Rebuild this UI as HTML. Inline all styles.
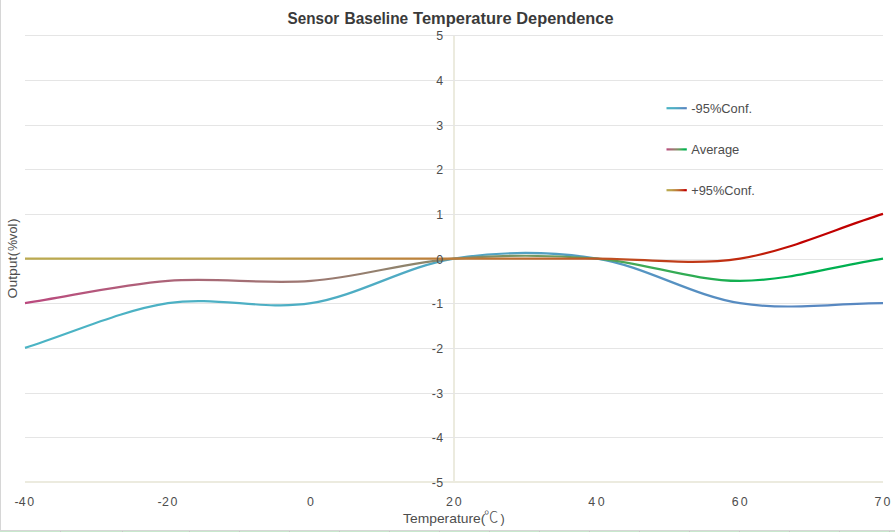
<!DOCTYPE html>
<html lang="en"><head><meta charset="utf-8"><title>Sensor Baseline Temperature Dependence</title>
<style>
html,body{margin:0;padding:0;background:#fff;}
body{width:895px;height:532px;position:relative;overflow:hidden;font-family:"Liberation Sans", "Noto Sans CJK SC", sans-serif;}
.chart{position:absolute;left:0;top:0;font-family:"Liberation Sans", "Noto Sans CJK SC", sans-serif;}
.lb{position:absolute;left:0;top:0;width:1px;height:531px;background:#d6d6d6}
.bb{position:absolute;left:0;top:530px;width:895px;height:1px;background:#d6d6d6}
.gs{position:absolute;left:0;top:531px;width:895px;height:1px;background:#c8e8cd}
</style></head><body>
<div class="gs"></div><div class="bb"></div><div class="lb"></div><div style="position:absolute;left:60px;top:531px;width:1px;height:1px;background:#c6c6c6"></div><div style="position:absolute;left:122px;top:531px;width:1px;height:1px;background:#c6c6c6"></div><div style="position:absolute;left:189px;top:531px;width:1px;height:1px;background:#c6c6c6"></div><div style="position:absolute;left:239px;top:531px;width:1px;height:1px;background:#c6c6c6"></div><div style="position:absolute;left:289px;top:531px;width:1px;height:1px;background:#c6c6c6"></div><div style="position:absolute;left:339px;top:531px;width:1px;height:1px;background:#c6c6c6"></div><div style="position:absolute;left:389px;top:531px;width:1px;height:1px;background:#c6c6c6"></div><div style="position:absolute;left:439px;top:531px;width:1px;height:1px;background:#c6c6c6"></div><div style="position:absolute;left:489px;top:531px;width:1px;height:1px;background:#c6c6c6"></div><div style="position:absolute;left:539px;top:531px;width:1px;height:1px;background:#c6c6c6"></div><div style="position:absolute;left:589px;top:531px;width:1px;height:1px;background:#c6c6c6"></div><div style="position:absolute;left:639px;top:531px;width:1px;height:1px;background:#c6c6c6"></div><div style="position:absolute;left:689px;top:531px;width:1px;height:1px;background:#c6c6c6"></div><div style="position:absolute;left:739px;top:531px;width:1px;height:1px;background:#c6c6c6"></div><div style="position:absolute;left:789px;top:531px;width:1px;height:1px;background:#c6c6c6"></div><div style="position:absolute;left:839px;top:531px;width:1px;height:1px;background:#c6c6c6"></div><div style="position:absolute;left:889px;top:531px;width:1px;height:1px;background:#c6c6c6"></div>
<svg width="895" height="532" viewBox="0 0 895 532" class="chart"><defs><linearGradient id="ga" gradientUnits="userSpaceOnUse" x1="25.0" y1="0" x2="883.0" y2="0"><stop offset="0.0000" stop-color="#4bb4c4"/><stop offset="0.0312" stop-color="#4bb3c4"/><stop offset="0.0625" stop-color="#4bb3c4"/><stop offset="0.0938" stop-color="#4cb2c4"/><stop offset="0.1250" stop-color="#4cb2c4"/><stop offset="0.1562" stop-color="#4cb1c4"/><stop offset="0.1875" stop-color="#4cb0c4"/><stop offset="0.2188" stop-color="#4db0c4"/><stop offset="0.2500" stop-color="#4dafc4"/><stop offset="0.2812" stop-color="#4dafc4"/><stop offset="0.3125" stop-color="#4daec4"/><stop offset="0.3438" stop-color="#4dadc3"/><stop offset="0.3750" stop-color="#4eadc3"/><stop offset="0.4062" stop-color="#4eacc3"/><stop offset="0.4375" stop-color="#4faac3"/><stop offset="0.4688" stop-color="#4fa8c3"/><stop offset="0.5000" stop-color="#50a6c3"/><stop offset="0.5312" stop-color="#50a4c3"/><stop offset="0.5625" stop-color="#51a2c3"/><stop offset="0.5938" stop-color="#52a0c3"/><stop offset="0.6250" stop-color="#529ec2"/><stop offset="0.6562" stop-color="#539bc2"/><stop offset="0.6875" stop-color="#5498c2"/><stop offset="0.7188" stop-color="#5595c2"/><stop offset="0.7500" stop-color="#5692c2"/><stop offset="0.7812" stop-color="#568fc1"/><stop offset="0.8125" stop-color="#578dc1"/><stop offset="0.8438" stop-color="#578bc1"/><stop offset="0.8750" stop-color="#5889c1"/><stop offset="0.9062" stop-color="#5888c1"/><stop offset="0.9375" stop-color="#5888c1"/><stop offset="0.9688" stop-color="#5888c1"/><stop offset="1.0000" stop-color="#5888c1"/></linearGradient><linearGradient id="la" gradientUnits="userSpaceOnUse" x1="666.5" y1="0" x2="686.8" y2="0"><stop offset="0.0000" stop-color="#4bb4c4"/><stop offset="0.0833" stop-color="#4cb2c4"/><stop offset="0.1667" stop-color="#4cb1c4"/><stop offset="0.2500" stop-color="#4dafc4"/><stop offset="0.3333" stop-color="#4daec4"/><stop offset="0.4167" stop-color="#4eabc3"/><stop offset="0.5000" stop-color="#50a6c3"/><stop offset="0.5833" stop-color="#51a1c3"/><stop offset="0.6667" stop-color="#549ac2"/><stop offset="0.7500" stop-color="#5692c2"/><stop offset="0.8333" stop-color="#578cc1"/><stop offset="0.9167" stop-color="#5888c1"/><stop offset="1.0000" stop-color="#5888c1"/></linearGradient><linearGradient id="gb" gradientUnits="userSpaceOnUse" x1="25.0" y1="0" x2="883.0" y2="0"><stop offset="0.0000" stop-color="#bb487e"/><stop offset="0.0312" stop-color="#b84e7d"/><stop offset="0.0625" stop-color="#b6547c"/><stop offset="0.0938" stop-color="#b3597b"/><stop offset="0.1250" stop-color="#b05e79"/><stop offset="0.1562" stop-color="#ad6278"/><stop offset="0.1875" stop-color="#aa6677"/><stop offset="0.2188" stop-color="#a76b76"/><stop offset="0.2500" stop-color="#a46e75"/><stop offset="0.2812" stop-color="#a17273"/><stop offset="0.3125" stop-color="#9e7672"/><stop offset="0.3438" stop-color="#9b7971"/><stop offset="0.3750" stop-color="#977c6f"/><stop offset="0.4062" stop-color="#94806e"/><stop offset="0.4375" stop-color="#90836d"/><stop offset="0.4688" stop-color="#8c866b"/><stop offset="0.5000" stop-color="#89896a"/><stop offset="0.5312" stop-color="#818e68"/><stop offset="0.5625" stop-color="#799365"/><stop offset="0.5938" stop-color="#719862"/><stop offset="0.6250" stop-color="#679c5f"/><stop offset="0.6562" stop-color="#5ca15c"/><stop offset="0.6875" stop-color="#4fa559"/><stop offset="0.7188" stop-color="#40a956"/><stop offset="0.7500" stop-color="#37ab55"/><stop offset="0.7812" stop-color="#2dac53"/><stop offset="0.8125" stop-color="#20ae52"/><stop offset="0.8438" stop-color="#08b050"/><stop offset="0.8750" stop-color="#00b050"/><stop offset="0.9062" stop-color="#00b050"/><stop offset="0.9375" stop-color="#00b050"/><stop offset="0.9688" stop-color="#00b050"/><stop offset="1.0000" stop-color="#00b050"/></linearGradient><linearGradient id="lb" gradientUnits="userSpaceOnUse" x1="666.5" y1="0" x2="686.8" y2="0"><stop offset="0.0000" stop-color="#bb487e"/><stop offset="0.0833" stop-color="#b4577b"/><stop offset="0.1667" stop-color="#ac6478"/><stop offset="0.2500" stop-color="#a46e75"/><stop offset="0.3333" stop-color="#9c7871"/><stop offset="0.4167" stop-color="#93816e"/><stop offset="0.5000" stop-color="#89896a"/><stop offset="0.5833" stop-color="#749663"/><stop offset="0.6667" stop-color="#58a25b"/><stop offset="0.7500" stop-color="#37ab55"/><stop offset="0.8333" stop-color="#13af51"/><stop offset="0.9167" stop-color="#00b050"/><stop offset="1.0000" stop-color="#00b050"/></linearGradient><linearGradient id="gc" gradientUnits="userSpaceOnUse" x1="25.0" y1="0" x2="883.0" y2="0"><stop offset="0.0000" stop-color="#bbaa50"/><stop offset="0.0312" stop-color="#bba94f"/><stop offset="0.0625" stop-color="#bba84f"/><stop offset="0.0938" stop-color="#bba74e"/><stop offset="0.1250" stop-color="#bba54e"/><stop offset="0.1562" stop-color="#bba44d"/><stop offset="0.1875" stop-color="#bba34c"/><stop offset="0.2188" stop-color="#bca24c"/><stop offset="0.2500" stop-color="#bca04b"/><stop offset="0.2812" stop-color="#bc9c49"/><stop offset="0.3125" stop-color="#bc9646"/><stop offset="0.3438" stop-color="#bc9244"/><stop offset="0.3750" stop-color="#bd8e42"/><stop offset="0.4062" stop-color="#bd893f"/><stop offset="0.4375" stop-color="#bd853d"/><stop offset="0.4688" stop-color="#bd813b"/><stop offset="0.5000" stop-color="#be7c38"/><stop offset="0.5312" stop-color="#be7635"/><stop offset="0.5625" stop-color="#be7032"/><stop offset="0.5938" stop-color="#be692f"/><stop offset="0.6250" stop-color="#bf622b"/><stop offset="0.6562" stop-color="#bf5927"/><stop offset="0.6875" stop-color="#bf5022"/><stop offset="0.7188" stop-color="#bf461d"/><stop offset="0.7500" stop-color="#bf3f1a"/><stop offset="0.7812" stop-color="#c03816"/><stop offset="0.8125" stop-color="#c03012"/><stop offset="0.8438" stop-color="#c0250c"/><stop offset="0.8750" stop-color="#c01706"/><stop offset="0.9062" stop-color="#c00000"/><stop offset="0.9375" stop-color="#c00000"/><stop offset="0.9688" stop-color="#c00000"/><stop offset="1.0000" stop-color="#c00000"/></linearGradient><linearGradient id="lc" gradientUnits="userSpaceOnUse" x1="666.5" y1="0" x2="686.8" y2="0"><stop offset="0.0000" stop-color="#bbaa50"/><stop offset="0.0833" stop-color="#bba74e"/><stop offset="0.1667" stop-color="#bba44d"/><stop offset="0.2500" stop-color="#bca04b"/><stop offset="0.3333" stop-color="#bc9344"/><stop offset="0.4167" stop-color="#bd883f"/><stop offset="0.5000" stop-color="#be7c38"/><stop offset="0.5833" stop-color="#be6b30"/><stop offset="0.6667" stop-color="#bf5725"/><stop offset="0.7500" stop-color="#bf3f1a"/><stop offset="0.8333" stop-color="#c0290e"/><stop offset="0.9167" stop-color="#c00000"/><stop offset="1.0000" stop-color="#c00000"/></linearGradient></defs><rect x="453" y="35" width="2" height="448" fill="#ecebdf"/><rect x="25" y="437" width="858" height="1" fill="#e5e5e5"/><rect x="25" y="393" width="858" height="1" fill="#e5e5e5"/><rect x="25" y="348" width="858" height="1" fill="#e5e5e5"/><rect x="25" y="303" width="858" height="1" fill="#e5e5e5"/><rect x="25" y="259" width="858" height="1" fill="#e5e5e5"/><rect x="25" y="214" width="858" height="1" fill="#e5e5e5"/><rect x="25" y="169" width="858" height="1" fill="#e5e5e5"/><rect x="25" y="125" width="858" height="1" fill="#e5e5e5"/><rect x="25" y="80" width="858" height="1" fill="#e5e5e5"/><rect x="25" y="35" width="858" height="1" fill="#e5e5e5"/><rect x="25" y="481" width="858" height="2" fill="#ecebdf"/><text x="14.6 18.7 27.2" y="505.8" font-size="12.4" fill="#4d4d4d">-40</text><text x="157.5 162.1 170.4" y="505.8" font-size="12.4" fill="#4d4d4d">-20</text><text x="307.1" y="505.8" font-size="12.4" fill="#4d4d4d">0</text><text x="445.9 454.7" y="505.8" font-size="12.4" fill="#4d4d4d">20</text><text x="588.2 597.7" y="505.8" font-size="12.4" fill="#4d4d4d">40</text><text x="731.8 740.7" y="505.8" font-size="12.4" fill="#4d4d4d">60</text><text x="874.4 883.5" y="505.8" font-size="12.4" fill="#4d4d4d">70</text><text y="23.6" font-size="16.2" font-weight="bold" fill="#3a3a3a"><tspan x="287.6" textLength="51.7" lengthAdjust="spacingAndGlyphs">Sensor</tspan> <tspan x="344.6" textLength="63.6" lengthAdjust="spacingAndGlyphs">Baseline</tspan> <tspan x="413.1" textLength="98.5" lengthAdjust="spacingAndGlyphs">Temperature</tspan> <tspan x="516.3" textLength="97.2" lengthAdjust="spacingAndGlyphs">Dependence</tspan></text><text font-size="12.6" fill="#4d4d4d"><tspan x="403.1" y="523.0" textLength="82.3" lengthAdjust="spacingAndGlyphs">Temperature(</tspan><tspan x="483.9" y="521.8" font-size="14.3" font-weight="300" font-family="&quot;Noto Sans CJK SC&quot;, sans-serif">℃</tspan><tspan x="500.6" y="523.0">)</tspan></text><text transform="translate(16.8,298.4) rotate(-90)" font-size="12.6" fill="#4d4d4d"><tspan x="0" textLength="41.8" lengthAdjust="spacingAndGlyphs">Output</tspan><tspan x="42.2">(</tspan><tspan x="47.3" textLength="27.3" lengthAdjust="spacingAndGlyphs">%vol</tspan><tspan x="75.7">)</tspan></text><rect x="666.5" y="107.10" width="20.3" height="2.2" fill="url(#la)"/><text x="691.3" y="112.90" font-size="12.6" fill="#4d4d4d" textLength="60.8" lengthAdjust="spacingAndGlyphs">-95%Conf.</text><rect x="666.5" y="148.30" width="20.3" height="2.2" fill="url(#lb)"/><text x="691.3" y="154.10" font-size="12.6" fill="#4d4d4d" textLength="48.0" lengthAdjust="spacingAndGlyphs">Average</text><rect x="666.5" y="189.10" width="20.3" height="2.2" fill="url(#lc)"/><text x="691.3" y="194.90" font-size="12.6" fill="#4d4d4d" textLength="63.6" lengthAdjust="spacingAndGlyphs">+95%Conf.</text><path d="M25.00,347.85 C72.67,332.97 120.33,310.64 168.00,303.20 C215.67,295.76 263.33,310.64 311.00,303.20 C358.67,295.76 406.33,265.99 454.00,258.55 C501.67,251.11 549.33,251.11 597.00,258.55 C644.67,265.99 692.33,295.76 740.00,303.20 C787.67,310.64 835.33,303.20 883.00,303.20" fill="none" stroke="url(#ga)" stroke-width="2.2" stroke-linecap="butt" stroke-linejoin="round"/><path d="M25.00,303.20 C72.67,295.76 120.33,284.60 168.00,280.88 C215.67,277.15 263.33,284.60 311.00,280.88 C358.67,277.15 406.33,262.27 454.00,258.55 C501.67,254.83 549.33,254.83 597.00,258.55 C644.67,262.27 692.33,280.88 740.00,280.88 C787.67,280.88 835.33,265.99 883.00,258.55" fill="none" stroke="url(#gb)" stroke-width="2.2" stroke-linecap="butt" stroke-linejoin="round"/><path d="M25.00,258.55 C72.67,258.55 120.33,258.55 168.00,258.55 C215.67,258.55 263.33,258.55 311.00,258.55 C358.67,258.55 406.33,258.55 454.00,258.55 C501.67,258.55 549.33,258.55 597.00,258.55 C644.67,258.55 692.33,265.99 740.00,258.55 C787.67,251.11 835.33,228.78 883.00,213.90" fill="none" stroke="url(#gc)" stroke-width="2.2" stroke-linecap="butt" stroke-linejoin="round"/><text x="431.7 436.3" y="487.0" font-size="12.4" fill="#4d4d4d">-5</text><text x="431.7 436.3" y="442.0" font-size="12.4" fill="#4d4d4d">-4</text><text x="431.7 436.3" y="398.0" font-size="12.4" fill="#4d4d4d">-3</text><text x="431.7 436.3" y="353.0" font-size="12.4" fill="#4d4d4d">-2</text><text x="431.7 436.3" y="308.0" font-size="12.4" fill="#4d4d4d">-1</text><text x="436.3" y="264.0" font-size="12.4" fill="#4d4d4d">0</text><text x="436.3" y="219.0" font-size="12.4" fill="#4d4d4d">1</text><text x="436.3" y="174.0" font-size="12.4" fill="#4d4d4d">2</text><text x="436.3" y="130.0" font-size="12.4" fill="#4d4d4d">3</text><text x="436.3" y="85.0" font-size="12.4" fill="#4d4d4d">4</text><text x="436.3" y="40.0" font-size="12.4" fill="#4d4d4d">5</text></svg>
</body></html>
